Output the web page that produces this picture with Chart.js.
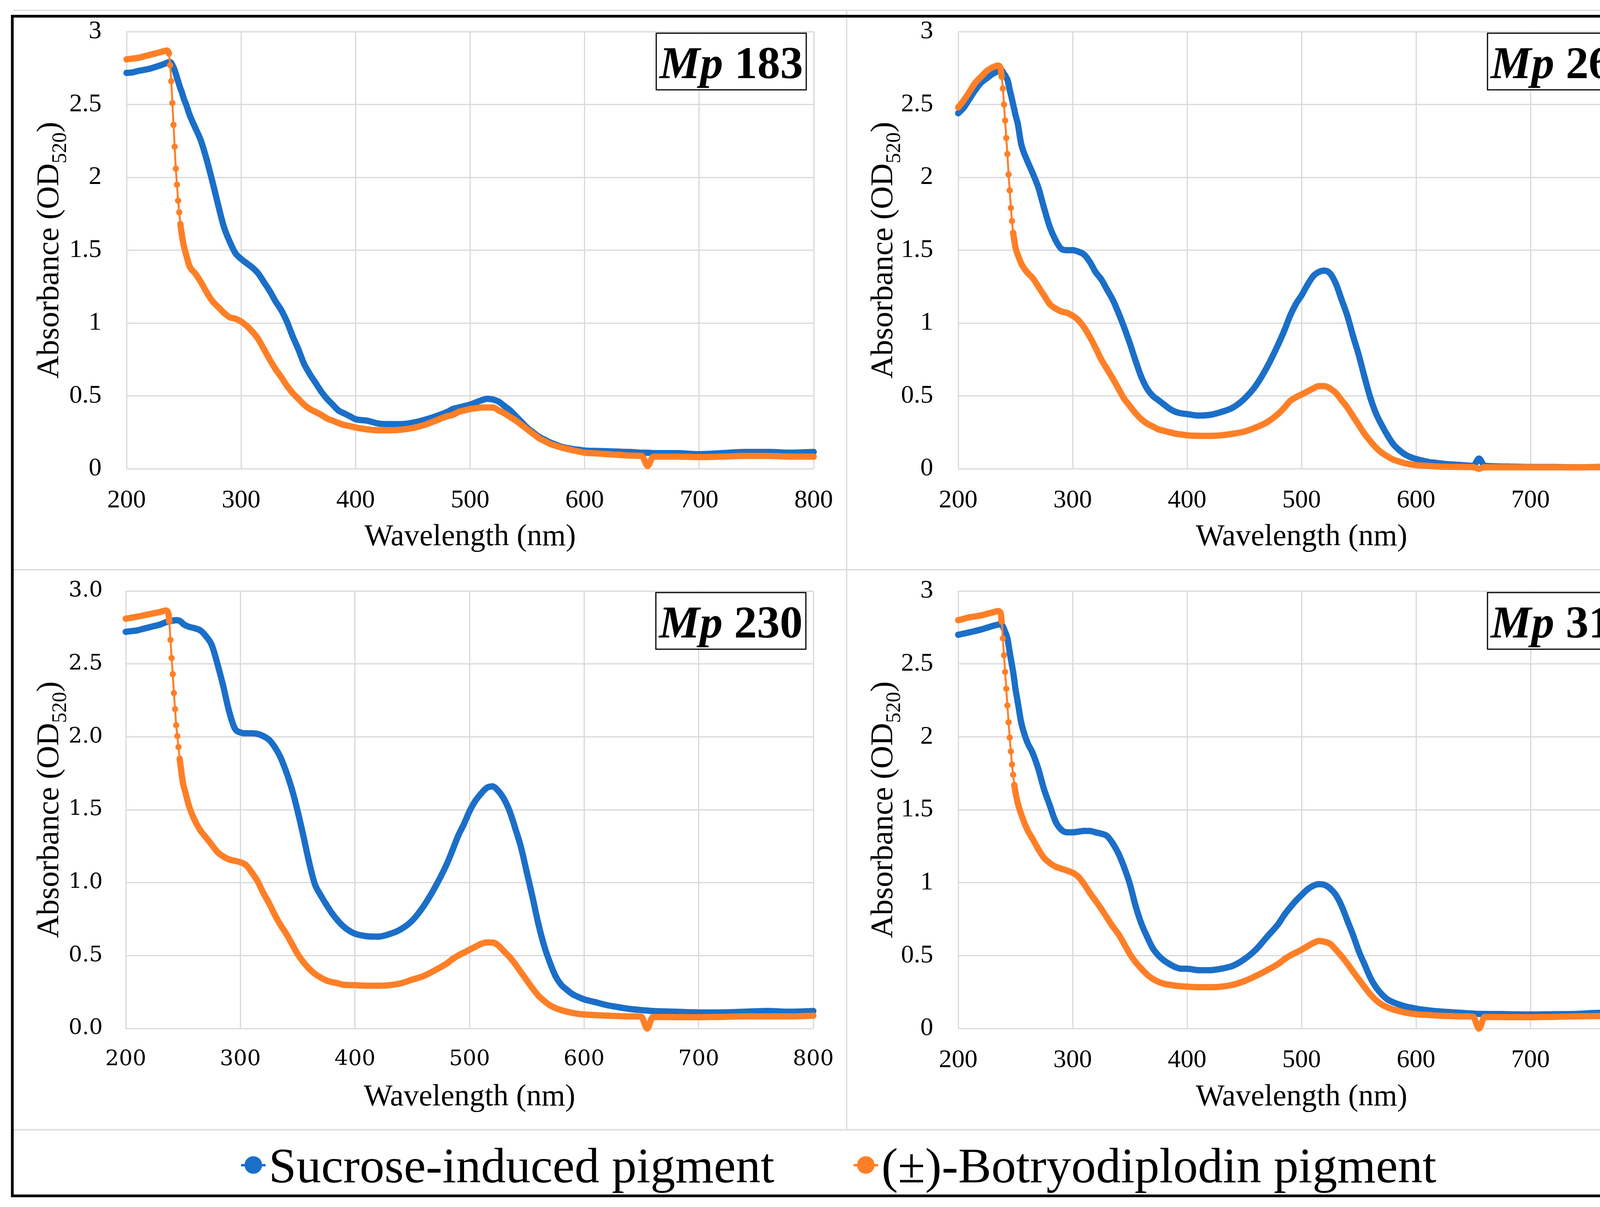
<!DOCTYPE html>
<html>
<head>
<meta charset="utf-8">
<title>Absorbance spectra</title>
<script src="https://cdn.jsdelivr.net/npm/chart.js@4.4.1/dist/chart.umd.min.js"></script>
<style>
  html, body { margin: 0; padding: 0; background: #fff; }
  #page { position: relative; width: 4325px; height: 3090px; overflow: hidden; background: #fff; }
  .panel { position: absolute; }
  .panel canvas { display: block; }
  .rule { position: absolute; background: #d9d9d9; }
  #frame { position: absolute; left: 28px; top: 38px; width: 4261px; height: 3013px; border: 7px solid #000; }
  #legend { position: absolute; left: 617px; top: 2921px; white-space: nowrap;
            font-family: 'Liberation Serif', 'Times New Roman', serif; font-size: 127px; line-height: 127px; color: #000; }
  #legend .item { display: inline-block; }
  #legend .item + .item { margin-left: 203px; }
  #legend .mk { display: inline-block; position: relative; width: 63px; height: 46px; margin-right: 8px; vertical-align: 21px; }
  #legend .mk::before { content: ''; position: absolute; left: 0; right: 0; top: 20px; height: 6px; background: var(--c); }
  #legend .mk::after { content: ''; position: absolute; left: 9px; top: 0; width: 45px; height: 45px; border-radius: 50%; background: var(--c); }
</style>
</head>
<body>
<div id="page">
  <div class="panel" style="left:32px;top:27px"><canvas id="c183" width="2135" height="1431"></canvas></div>
  <div class="panel" style="left:2167px;top:27px"><canvas id="c264" width="2131" height="1431"></canvas></div>
  <div class="panel" style="left:32px;top:1458px"><canvas id="c230" width="2135" height="1434"></canvas></div>
  <div class="panel" style="left:2167px;top:1458px"><canvas id="c312" width="2131" height="1434"></canvas></div>

  <div class="rule" style="left:35px;top:25px;width:4263px;height:3px"></div>
  <div class="rule" style="left:2166px;top:27px;width:3px;height:2865px"></div>
  <div class="rule" style="left:32px;top:1457px;width:4266px;height:3px"></div>
  <div class="rule" style="left:32px;top:2891px;width:4266px;height:3px"></div>

  <div id="legend"></div>
  <div id="frame"></div>
</div>

<script>
// --- DATA ---
const wavelengths = [
  200, 205, 210, 215, 220, 225, 230, 235,
  237, 238, 239, 240, 241, 242, 243, 244, 245, 246, 247, 248, 249, 250,
  252, 255, 260, 265, 270, 275, 280, 285, 290, 295, 300, 305, 310, 315, 320, 325, 330, 335, 340, 345, 350, 355, 360, 365, 370, 375, 380, 385, 390, 395, 400,
  410, 420, 430, 440, 450, 460, 470, 480,
  485, 490, 495, 500, 505, 510, 515, 520, 525, 530, 535, 540, 545, 550, 555, 560, 565, 570, 575, 580, 585, 590, 595, 600,
  610, 620, 630, 640, 650, 655, 660, 680, 700, 720, 740, 760, 780, 800
];

const sucrose183 = [
  2.717, 2.72, 2.73, 2.737, 2.745, 2.757, 2.77, 2.785,
  2.79, 2.79, 2.785, 2.77, 2.755, 2.735, 2.71, 2.685, 2.66, 2.635, 2.61, 2.59, 2.565, 2.54,
  2.50, 2.43, 2.34, 2.25, 2.12, 1.97, 1.81, 1.66, 1.56, 1.48, 1.44, 1.41, 1.38, 1.34, 1.28, 1.22, 1.15, 1.09, 1.01, 0.91, 0.82, 0.72, 0.65, 0.59, 0.53, 0.48, 0.44, 0.40, 0.38, 0.36, 0.34,
  0.33, 0.31, 0.306, 0.306, 0.316, 0.335, 0.36, 0.39,
  0.41, 0.42, 0.43, 0.44, 0.455, 0.47, 0.48, 0.475, 0.46, 0.43, 0.40, 0.36, 0.32, 0.28, 0.25, 0.22, 0.20, 0.18, 0.165, 0.15, 0.142, 0.135, 0.13, 0.125,
  0.122, 0.12, 0.117, 0.115, 0.11, 0.11, 0.107, 0.107, 0.10, 0.107, 0.115, 0.115, 0.11, 0.115
];
const botryo183 = [
  2.81, 2.815, 2.82, 2.83, 2.84, 2.85, 2.86, 2.87,
  2.85, 2.77, 2.66, 2.51, 2.36, 2.21, 2.06, 1.95, 1.84, 1.76, 1.68, 1.62, 1.57, 1.53,
  1.47, 1.39, 1.34, 1.28, 1.21, 1.15, 1.11, 1.07, 1.04, 1.03, 1.01, 0.98, 0.94, 0.89, 0.82, 0.75, 0.685, 0.63, 0.57, 0.52, 0.48, 0.44, 0.41, 0.39, 0.37, 0.345, 0.33, 0.314, 0.30, 0.293, 0.283,
  0.27, 0.264, 0.264, 0.268, 0.28, 0.30, 0.33, 0.36,
  0.37, 0.39, 0.40, 0.41, 0.415, 0.42, 0.42, 0.42, 0.40, 0.38, 0.355, 0.33, 0.30, 0.27, 0.24, 0.21, 0.19, 0.17, 0.157, 0.145, 0.135, 0.126, 0.118, 0.11,
  0.105, 0.10, 0.095, 0.09, 0.087, 0.02, 0.083, 0.083, 0.08, 0.083, 0.088, 0.088, 0.083, 0.083
];

const sucrose264 = [
  2.44, 2.48, 2.54, 2.60, 2.65, 2.68, 2.71, 2.73,
  2.74, 2.735, 2.725, 2.71, 2.70, 2.685, 2.67, 2.64, 2.60, 2.57, 2.535, 2.50, 2.465, 2.43,
  2.37, 2.23, 2.12, 2.03, 1.93, 1.79, 1.66, 1.57, 1.51, 1.50, 1.50, 1.49, 1.47, 1.42, 1.35, 1.30, 1.23, 1.16, 1.07, 0.97, 0.86, 0.74, 0.63, 0.55, 0.50, 0.47, 0.44, 0.41, 0.39, 0.38, 0.375,
  0.365, 0.37, 0.39, 0.42, 0.48, 0.57, 0.70, 0.86,
  0.95, 1.05, 1.13, 1.19, 1.26, 1.32, 1.35, 1.36, 1.34, 1.27, 1.16, 1.05, 0.91, 0.78, 0.63, 0.49, 0.38, 0.30, 0.23, 0.17, 0.13, 0.10, 0.08, 0.067,
  0.048, 0.038, 0.03, 0.025, 0.02, 0.07, 0.02, 0.015, 0.012, 0.012, 0.01, 0.012, 0.012, 0.015
];
const botryo264 = [
  2.48, 2.53, 2.59, 2.65, 2.69, 2.73, 2.755, 2.767,
  2.75, 2.69, 2.61, 2.50, 2.39, 2.27, 2.16, 2.02, 1.91, 1.79, 1.70, 1.62, 1.57, 1.52,
  1.47, 1.41, 1.35, 1.31, 1.25, 1.19, 1.13, 1.10, 1.08, 1.07, 1.05, 1.02, 0.97, 0.905, 0.83, 0.75, 0.685, 0.62, 0.55, 0.48, 0.43, 0.38, 0.34, 0.31, 0.29, 0.27, 0.26, 0.25, 0.24, 0.235, 0.23,
  0.226, 0.226, 0.23, 0.24, 0.255, 0.283, 0.32, 0.38,
  0.42, 0.465, 0.49, 0.51, 0.53, 0.55, 0.567, 0.567, 0.55, 0.52, 0.47, 0.42, 0.36, 0.30, 0.24, 0.19, 0.145, 0.11, 0.085, 0.063, 0.05, 0.038, 0.03, 0.025,
  0.02, 0.015, 0.013, 0.012, 0.011, 0.0, 0.01, 0.01, 0.01, 0.01, 0.01, 0.011, 0.012, 0.012
];

const sucrose230 = [
  2.72, 2.725, 2.73, 2.74, 2.75, 2.76, 2.77, 2.786,
  2.79, 2.792, 2.794, 2.795, 2.797, 2.798, 2.80, 2.80, 2.80, 2.798, 2.795, 2.79, 2.783, 2.775,
  2.765, 2.755, 2.745, 2.73, 2.69, 2.63, 2.50, 2.35, 2.18, 2.06, 2.03, 2.024, 2.024, 2.02, 2.005, 1.98, 1.93, 1.86, 1.76, 1.64, 1.49, 1.32, 1.14, 0.99, 0.915, 0.85, 0.79, 0.74, 0.70, 0.67, 0.65,
  0.633, 0.63, 0.647, 0.68, 0.74, 0.84, 0.97, 1.125,
  1.22, 1.32, 1.40, 1.49, 1.56, 1.61, 1.65, 1.66, 1.63, 1.575, 1.49, 1.37, 1.24, 1.07, 0.90, 0.72, 0.57, 0.455, 0.36, 0.30, 0.265, 0.235, 0.216, 0.20,
  0.18, 0.16, 0.146, 0.134, 0.126, 0.123, 0.12, 0.115, 0.11, 0.11, 0.115, 0.12, 0.115, 0.12
];
const botryo230 = [
  2.81, 2.817, 2.824, 2.832, 2.84, 2.848, 2.856, 2.866,
  2.85, 2.79, 2.665, 2.54, 2.43, 2.30, 2.19, 2.08, 2.005, 1.93, 1.85, 1.79, 1.73, 1.68,
  1.62, 1.53, 1.43, 1.36, 1.31, 1.26, 1.21, 1.18, 1.16, 1.15, 1.14, 1.12, 1.07, 1.01, 0.93, 0.86, 0.78, 0.71, 0.65, 0.58, 0.51, 0.455, 0.41, 0.375, 0.35, 0.33, 0.318, 0.31, 0.30, 0.298, 0.297,
  0.293, 0.293, 0.297, 0.31, 0.335, 0.36, 0.40, 0.445,
  0.475, 0.50, 0.52, 0.54, 0.56, 0.58, 0.59, 0.59, 0.57, 0.53, 0.49, 0.44, 0.385, 0.33, 0.275, 0.226, 0.19, 0.16, 0.14, 0.126, 0.115, 0.107, 0.10, 0.096,
  0.092, 0.088, 0.085, 0.083, 0.08, 0.0, 0.079, 0.078, 0.077, 0.08, 0.083, 0.083, 0.083, 0.088
];

const sucrose312 = [
  2.70, 2.708, 2.717, 2.726, 2.736, 2.748, 2.76, 2.77,
  2.775, 2.77, 2.757, 2.74, 2.72, 2.70, 2.675, 2.63, 2.58, 2.535, 2.49, 2.445, 2.39, 2.33,
  2.24, 2.10, 1.97, 1.89, 1.78, 1.64, 1.53, 1.42, 1.364, 1.345, 1.345, 1.35, 1.355, 1.355, 1.345, 1.336, 1.32, 1.27, 1.20, 1.105, 0.99, 0.84, 0.72, 0.63, 0.55, 0.50, 0.465, 0.44, 0.42, 0.41, 0.41,
  0.40, 0.40, 0.41, 0.43, 0.475, 0.54, 0.63, 0.72,
  0.78, 0.83, 0.876, 0.915, 0.953, 0.978, 0.99, 0.985, 0.96, 0.915, 0.84, 0.74, 0.64, 0.53, 0.44, 0.35, 0.283, 0.235, 0.20, 0.18, 0.165, 0.153, 0.144, 0.136,
  0.125, 0.117, 0.112, 0.107, 0.102, 0.10, 0.10, 0.098, 0.096, 0.098, 0.10, 0.107, 0.107, 0.11
];
const botryo312 = [
  2.80, 2.81, 2.82, 2.826, 2.833, 2.843, 2.853, 2.862,
  2.85, 2.79, 2.675, 2.56, 2.445, 2.33, 2.215, 2.10, 1.995, 1.90, 1.81, 1.74, 1.67, 1.62,
  1.546, 1.47, 1.37, 1.30, 1.23, 1.17, 1.135, 1.11, 1.096, 1.083, 1.068, 1.04, 0.99, 0.93, 0.876, 0.82, 0.76, 0.70, 0.647, 0.58, 0.51, 0.455, 0.41, 0.37, 0.34, 0.32, 0.306, 0.30, 0.293, 0.29, 0.287,
  0.283, 0.283, 0.287, 0.30, 0.325, 0.36, 0.40, 0.445,
  0.475, 0.50, 0.52, 0.54, 0.563, 0.585, 0.60, 0.595, 0.58, 0.54, 0.495, 0.445, 0.39, 0.337, 0.285, 0.235, 0.195, 0.165, 0.145, 0.13, 0.12, 0.11, 0.103, 0.098,
  0.093, 0.088, 0.085, 0.083, 0.08, 0.0, 0.079, 0.078, 0.077, 0.08, 0.083, 0.085, 0.086, 0.088
];

const wavelengthTicks = [200, 300, 400, 500, 600, 700, 800];
const absorbanceTicks = [0, 0.5, 1, 1.5, 2, 2.5, 3];
const seriesNames = ['Sucrose-induced pigment', '(\u00b1)-Botryodiplodin pigment'];
const seriesColors = ['#1b6fc8', '#ff7f27'];

const serif = "'Liberation Serif', 'Times New Roman', serif";

// --- LEGEND (shared, below the four panels) ---
const legendEl = document.getElementById('legend');
seriesNames.forEach((name, i) => {
  const item = document.createElement('span');
  item.className = 'item';
  const mk = document.createElement('span');
  mk.className = 'mk';
  mk.style.setProperty('--c', seriesColors[i]);
  item.appendChild(mk);
  item.appendChild(document.createTextNode(name));
  legendEl.appendChild(item);
});

// y-axis title with a real subscript, plus the strain label box
const panelLabels = {
  id: 'panelLabels',
  afterDraw(chart, args, opts) {
    const { ctx, chartArea: a } = chart;
    ctx.save();
    ctx.fillStyle = '#000';
    ctx.textAlign = 'left';
    ctx.textBaseline = 'alphabetic';
    ctx.translate(opts.titleX, (a.top + a.bottom) / 2);
    ctx.rotate(-Math.PI / 2);
    const mainFont = '81px ' + serif, subFont = '53px ' + serif;
    ctx.font = mainFont;
    const w1 = ctx.measureText('Absorbance (OD').width;
    const w3 = ctx.measureText(')').width;
    ctx.font = subFont;
    const w2 = ctx.measureText('520').width;
    let x = -(w1 + w2 + w3) / 2;
    ctx.font = mainFont; ctx.fillText('Absorbance (OD', x, 0); x += w1;
    ctx.font = subFont; ctx.fillText('520', x, 20); x += w2;
    ctx.font = mainFont; ctx.fillText(')', x, 0);
    ctx.restore();

    // strain box, top right of the plot area
    const bw = 384, bh = 145;
    const bx = a.right - 19 - bw, by = a.top + 4;
    ctx.save();
    ctx.fillStyle = '#fff';
    ctx.fillRect(bx, by, bw, bh);
    ctx.lineWidth = 3;
    ctx.strokeStyle = '#000';
    ctx.strokeRect(bx, by, bw, bh);
    ctx.fillStyle = '#000';
    ctx.textBaseline = 'alphabetic';
    ctx.font = 'italic bold 117px ' + serif;
    const wm = ctx.measureText('Mp').width;
    ctx.font = 'bold 117px ' + serif;
    const wn = ctx.measureText(' ' + opts.strain).width;
    const tx = bx + (bw - wm - wn) / 2;
    ctx.font = 'italic bold 117px ' + serif;
    ctx.fillText('Mp', tx, by + 115);
    ctx.font = 'bold 117px ' + serif;
    ctx.fillText(' ' + opts.strain, tx + wm, by + 115);
    ctx.restore();
  }
};

function spectrum(i, values) {
  if (values.length !== wavelengths.length) throw new Error('length mismatch for ' + seriesNames[i]);
  const color = seriesColors[i];
  return {
    label: seriesNames[i],
    data: values.map((v, k) => ({ x: wavelengths[k], y: v })),
    borderColor: color,
    backgroundColor: color,
    borderWidth: 16,
    borderCapStyle: 'round',
    borderJoinStyle: 'round',
    cubicInterpolationMode: 'monotone',
    pointRadius: 8,
    pointHoverRadius: 8,
    pointBorderWidth: 0,
    pointBackgroundColor: color,
    fill: false,
    clip: false,
    order: i === 0 ? 1 : 0, // orange drawn over blue
    segment: {
      // where the spectrum falls faster than ~24 px per nm the dots separate
      borderWidth: ctx => {
        const dnm = wavelengths[ctx.p1DataIndex] - wavelengths[ctx.p0DataIndex];
        return Math.abs(ctx.p1.y - ctx.p0.y) / dnm > 24 ? 5 : undefined;
      }
    }
  };
}

function makePanel(id, strain, sucrose, botryo, geo) {
  const tickFont = geo.tickFont;
  const grid = { color: '#d9d9d9', lineWidth: 3, drawTicks: false };
  new Chart(document.getElementById(id), {
    type: 'line',
    data: { datasets: [spectrum(0, sucrose), spectrum(1, botryo)] },
    options: {
      responsive: false,
      animation: false,
      devicePixelRatio: 1,
      events: [],
      layout: { padding: { left: 0, top: geo.top, right: geo.right, bottom: 0 } },
      plugins: {
        legend: { display: false },
        tooltip: { enabled: false },
        panelLabels: { titleX: 117, strain: strain }
      },
      scales: {
        x: {
          type: 'linear',
          min: 200,
          max: 800,
          afterBuildTicks: s => { s.ticks = wavelengthTicks.map(v => ({ value: v })); },
          afterFit: s => { s.height = geo.bottom; s.paddingLeft = 0; s.paddingRight = 0; },
          grid: grid,
          border: { display: false },
          ticks: { font: tickFont, color: '#000', padding: geo.xPad, autoSkip: false, maxRotation: 0 },
          title: {
            display: true,
            text: 'Wavelength (nm)',
            color: '#000',
            font: { family: serif, size: 78 },
            padding: { top: 0, bottom: 36 }
          }
        },
        y: {
          min: 0,
          max: 3,
          afterBuildTicks: s => { s.ticks = absorbanceTicks.map(v => ({ value: v })); },
          afterFit: s => { s.width = geo.left; s.paddingTop = 0; s.paddingBottom = 0; },
          grid: grid,
          border: { display: false },
          ticks: { font: tickFont, color: '#000', padding: geo.yPad, callback: geo.fmt }
        }
      }
    },
    plugins: [panelLabels]
  });
}

const timesTicks = { family: serif, size: 66 };
const plainFmt = v => String(v);

makePanel('c183', '183', sucrose183, botryo183,
  { left: 292, top: 54, right: 84, bottom: 258, tickFont: timesTicks, xPad: 42, yPad: 64, fmt: plainFmt });
makePanel('c264', '264', sucrose264, botryo264,
  { left: 286, top: 54, right: 87, bottom: 258, tickFont: timesTicks, xPad: 42, yPad: 64, fmt: plainFmt });
makePanel('c230', '230', sucrose230, botryo230,
  { left: 290, top: 55, right: 85, bottom: 259, tickFont: { family: "'DejaVu Serif', serif", size: 55 },
    xPad: 47, yPad: 59, fmt: v => v.toFixed(1) });
makePanel('c312', '312', sucrose312, botryo312,
  { left: 286, top: 55, right: 87, bottom: 259, tickFont: timesTicks, xPad: 42, yPad: 64, fmt: plainFmt });
</script>
</body>
</html>
